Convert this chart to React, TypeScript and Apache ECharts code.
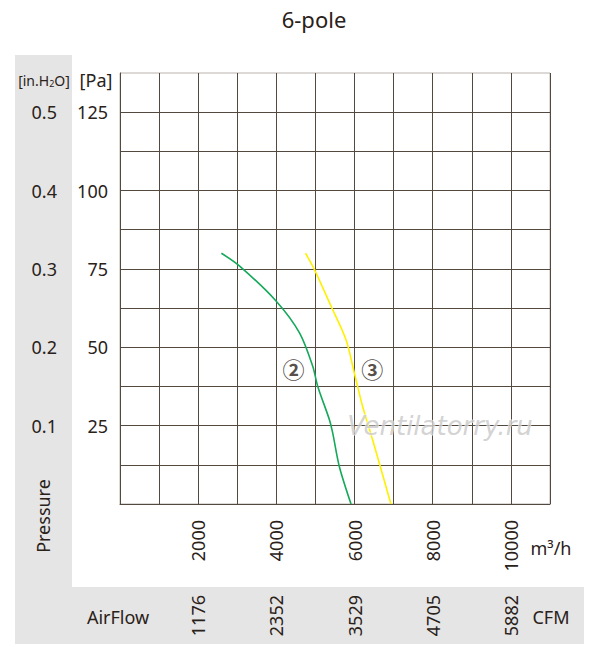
import React, { useEffect, useRef } from "react";
import * as echarts from "echarts";

const xTickLabels = [2000, 4000, 6000, 8000, 10000];
const cfmLabels = ["1176", "2352", "3529", "4705", "5882"];
const paTickLabels = [25, 50, 75, 100, 125];
const inH2OLabels = ["0.1", "0.2", "0.3", "0.4", "0.5"];

const curve2: [number, number][] = [
  [2594, 80], [3061, 75.9], [3997, 64.7], [4592, 54.6], [4932, 43.9],
  [5059, 37.5], [5357, 26.9], [5442, 22.6], [5612, 11.9], [5910, 0],
];
const curve3: [number, number][] = [
  [4745, 80], [4974, 74.8], [5400, 63.1], [5782, 52.4], [5995, 41.8],
  [6207, 31.1], [6462, 20.5], [6930, 0],
];
const curveLabels: { name: string; value: [number, number] }[] = [
  { name: "②", value: [4439, 43.5] },
  { name: "③", value: [6454, 43.5] },
];

const TEXT = "#2a2118";
const GRID = "#54493f";
const FONT = "Noto Sans";

export default function App() {
  const ref = useRef<HTMLDivElement>(null);
  useEffect(() => {
    if (!ref.current) return;
    const chart = echarts.init(ref.current, undefined, { renderer: "svg" });
    chart.setOption({
      animation: false,
      textStyle: { fontFamily: FONT, color: TEXT },
      title: {
        text: "6-pole",
        left: 309,
        textAlign: "center",
        top: 3,
        textStyle: { fontFamily: FONT, fontSize: 22, fontWeight: "normal", color: TEXT },
      },
      grid: {
        left: 120,
        top: 73,
        right: 50,
        bottom: 149,
        show: true,
        borderColor: "#b8b2ac",
        borderWidth: 1,
        backgroundColor: "transparent",
      },
      xAxis: [
        {
          type: "value",
          min: 0,
          max: 11000,
          interval: 1000,
          position: "bottom",
          axisLine: { show: true, lineStyle: { color: GRID, width: 1 } },
          axisTick: { show: false },
          splitLine: { show: true, lineStyle: { color: GRID, width: 1 } },
          axisLabel: {
            rotate: 90,
            margin: 16,
            fontSize: 18,
            color: TEXT,
            fontFamily: FONT,
            formatter: (v: number) => (xTickLabels.includes(v) ? String(v) : ""),
          },
        },
        {
          type: "value",
          min: 0,
          max: 11000,
          interval: 1000,
          position: "bottom",
          offset: 75,
          axisLine: { show: false },
          axisTick: { show: false },
          splitLine: { show: false },
          axisLabel: {
            rotate: 90,
            margin: 16,
            fontSize: 18,
            color: TEXT,
            fontFamily: FONT,
            formatter: (v: number) => {
              const i = xTickLabels.indexOf(v);
              return i >= 0 ? cfmLabels[i] : "";
            },
          },
        },
      ],
      yAxis: [
        {
          type: "value",
          min: 0,
          max: 137.5,
          interval: 12.5,
          position: "left",
          axisLine: { show: true, lineStyle: { color: GRID, width: 1 } },
          axisTick: { show: false },
          splitLine: { show: true, showMaxLine: false, lineStyle: { color: GRID, width: 1 } },
          axisLabel: {
            margin: 12,
            fontSize: 18,
            color: TEXT,
            fontFamily: FONT,
            formatter: (v: number) => (paTickLabels.includes(v) ? String(v) : ""),
          },
        },
        {
          type: "value",
          min: 0,
          max: 137.5,
          interval: 12.5,
          position: "left",
          offset: 51,
          axisLine: { show: false },
          axisTick: { show: false },
          splitLine: { show: false },
          axisLabel: {
            margin: 12,
            fontSize: 18,
            color: TEXT,
            fontFamily: FONT,
            formatter: (v: number) => {
              const i = paTickLabels.indexOf(v);
              return i >= 0 ? inH2OLabels[i] : "";
            },
          },
        },
      ],
      graphic: [
        { type: "rect", z: -10, shape: { x: 15, y: 55, width: 57, height: 589 }, style: { fill: "#e5e5e5" } },
        { type: "rect", z: -10, shape: { x: 15, y: 587, width: 569, height: 57 }, style: { fill: "#e5e5e5" } },
        {
          type: "text",
          x: 44,
          y: 80,
          style: {
            text: "{a|[in.H}{s|2}{a|O]}",
            align: "center",
            verticalAlign: "middle",
            fill: TEXT,
            rich: {
              a: { fontSize: 14, fontFamily: FONT, fill: TEXT },
              s: { fontSize: 9, fontFamily: FONT, fill: TEXT, padding: [7, 0, 0, 0] },
            },
          },
        },
        {
          type: "text",
          x: 96,
          y: 80,
          style: { text: "[Pa]", align: "center", verticalAlign: "middle", fontSize: 18, fontFamily: FONT, fill: TEXT },
        },
        {
          type: "text",
          x: 43,
          y: 516,
          rotation: Math.PI / 2,
          style: { text: "Pressure", align: "center", verticalAlign: "middle", fontSize: 18, fontFamily: FONT, fill: TEXT },
        },
        {
          type: "text",
          x: 118,
          y: 617,
          style: { text: "AirFlow", align: "center", verticalAlign: "middle", fontSize: 18, fontFamily: FONT, fill: TEXT },
        },
        {
          type: "text",
          x: 551,
          y: 617,
          style: { text: "CFM", align: "center", verticalAlign: "middle", fontSize: 18, fontFamily: FONT, fill: TEXT },
        },
        {
          type: "text",
          x: 551,
          y: 548,
          style: { text: "m³/h", align: "center", verticalAlign: "middle", fontSize: 18, fontFamily: FONT, fill: TEXT },
        },
        {
          type: "text",
          x: 440,
          y: 426,
          z: 5,
          style: {
            text: "Ventilatorry.ru",
            align: "center",
            verticalAlign: "middle",
            fontSize: 26,
            fontStyle: "italic",
            fontFamily: "DejaVu Sans",
            fill: "rgba(200,200,200,0.8)",
            stroke: "rgba(255,255,255,0.7)",
            lineWidth: 1,
          },
        },
      ],
      series: [
        {
          type: "line",
          data: curve2,
          smooth: 0.3,
          showSymbol: false,
          lineStyle: { color: "#14a85a", width: 1.6 },
          z: 3,
        },
        {
          type: "line",
          data: curve3,
          smooth: 0.3,
          showSymbol: false,
          lineStyle: { color: "#fff000", width: 1.6 },
          z: 3,
        },
        {
          type: "scatter",
          data: curveLabels,
          symbolSize: 0,
          label: {
            show: true,
            position: "inside",
            formatter: (p: any) => p.name,
            fontSize: 22,
            fontWeight: "bold",
            fontFamily: "Noto Sans CJK SC",
            color: TEXT,
          },
          z: 4,
        },
      ],
    });
    return () => chart.dispose();
  }, []);
  return (
    <div
      ref={ref}
      style={{ position: "fixed", left: 0, top: 0, width: 600, height: 653, background: "#fff" }}
    />
  );
}
